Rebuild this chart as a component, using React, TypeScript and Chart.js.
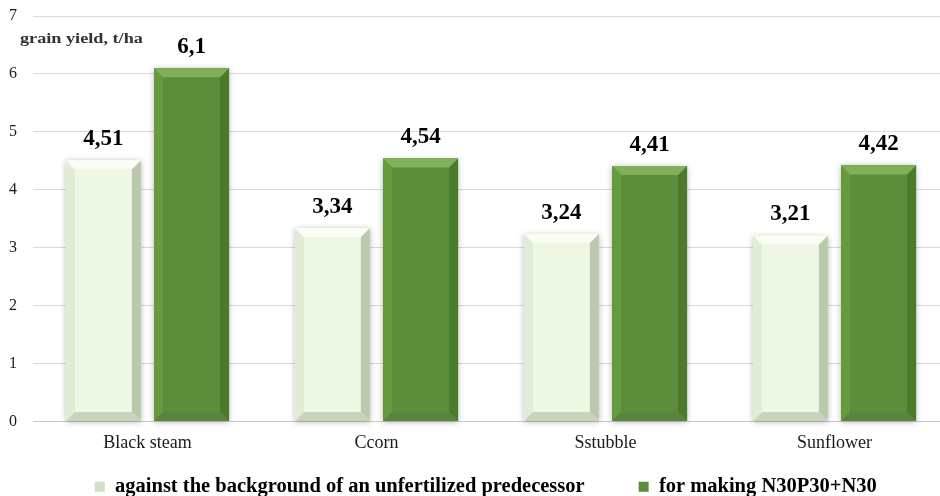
import React, { useEffect, useRef } from "react";
import { Chart, registerables } from "chart.js";

Chart.register(...registerables);

const categories = ["Black steam", "Ccorn", "Sstubble", "Sunflower"];
const seriesNames = [
  "against the background of an unfertilized predecessor",
  "for making N30P30+N30",
];
const unfertilized = [4.51, 3.34, 3.24, 3.21];
const fertilized = [6.1, 4.54, 4.41, 4.42];
const valueLabels = [
  ["4,51", "3,34", "3,24", "3,21"],
  ["6,1", "4,54", "4,41", "4,42"],
];
const yTicks = [0, 1, 2, 3, 4, 5, 6, 7];
const axisTitle = "grain yield, t/ha";

const SERIF = "'Liberation Serif', 'Times New Roman', serif";
const LEGEND_DX = 6.75;

const barStyles = [
  {
    face: "#edf7e3",
    top: "#fafdf5",
    left: "#e1ecd6",
    right: "#bac9ad",
    bottom: "#c8d5bb",
    legend: "#d3dfc9",
  },
  {
    face: "#5c8d3a",
    top: "#80b05a",
    left: "#67993f",
    right: "#4a7a2b",
    bottom: "#5b8442",
    legend: "#5c8d3a",
  },
];

const decorPlugin = {
  id: "decor",
  afterLayout(chart: any) {
    const lg = chart.legend;
    if (!lg) return;
    const dy = chart.chartArea.bottom + 1 - lg.top;
    lg.top += dy;
    lg.bottom += dy;
    lg.left += LEGEND_DX;
    lg.right += LEGEND_DX;
  },
  beforeDatasetsDraw(chart: any) {
    const ctx = chart.ctx;
    chart.data.datasets.forEach((_ds: any, di: number) => {
      const meta = chart.getDatasetMeta(di);
      meta.data.forEach((bar: any) => {
        const { x, y, base, width } = bar.getProps(["x", "y", "base", "width"], true);
        ctx.save();
        ctx.shadowColor = "rgba(0,0,0,0.28)";
        ctx.shadowBlur = 6;
        ctx.shadowOffsetX = 0;
        ctx.shadowOffsetY = 1;
        ctx.fillStyle = barStyles[di].face;
        ctx.fillRect(x - width / 2, y, width, base - y);
        ctx.restore();
      });
    });
  },
  afterDatasetsDraw(chart: any) {
    const ctx = chart.ctx;
    const b = 9;
    chart.data.datasets.forEach((_ds: any, di: number) => {
      const meta = chart.getDatasetMeta(di);
      const st = barStyles[di];
      meta.data.forEach((bar: any, i: number) => {
        const { x, y, base, width } = bar.getProps(["x", "y", "base", "width"], true);
        const l = x - width / 2;
        const r = x + width / 2;
        const t = y;
        const bt = base;
        const poly = (pts: number[][], color: string) => {
          ctx.beginPath();
          ctx.moveTo(pts[0][0], pts[0][1]);
          for (let k = 1; k < pts.length; k++) ctx.lineTo(pts[k][0], pts[k][1]);
          ctx.closePath();
          ctx.fillStyle = color;
          ctx.fill();
        };
        ctx.save();
        poly([[l, t], [l + b, t + b], [l + b, bt - b], [l, bt]], st.left);
        poly([[r, t], [r - b, t + b], [r - b, bt - b], [r, bt]], st.right);
        poly([[l, bt], [r, bt], [r - b, bt - b], [l + b, bt - b]], st.bottom);
        poly([[l, t], [r, t], [r - b, t + b], [l + b, t + b]], st.top);
        ctx.restore();

        ctx.save();
        ctx.font = `bold 23px ${SERIF}`;
        ctx.fillStyle = "#000";
        ctx.textAlign = "center";
        ctx.textBaseline = "middle";
        ctx.fillText(valueLabels[di][i], x, y - 21);
        ctx.restore();
      });
    });
  },
  afterDraw(chart: any) {
    const ctx = chart.ctx;
    const yScale = chart.scales.y;
    ctx.save();
    ctx.font = `bold 14px ${SERIF}`;
    ctx.fillStyle = "#333";
    ctx.textAlign = "left";
    ctx.textBaseline = "middle";
    ctx.translate(chart.chartArea.left - 13, yScale.getPixelForValue(6.6));
    ctx.scale(1.3, 1);
    ctx.fillText(axisTitle, 0, 0);
    ctx.restore();
  },
};

export default function App() {
  const ref = useRef<HTMLCanvasElement | null>(null);

  useEffect(() => {
    if (!ref.current) return;
    const chart = new Chart(ref.current, {
      type: "bar",
      data: {
        labels: categories,
        datasets: [
          {
            label: seriesNames[0],
            data: unfertilized,
            backgroundColor: barStyles[0].face,
            borderWidth: 0,
          },
          {
            label: seriesNames[1],
            data: fertilized,
            backgroundColor: barStyles[1].face,
            borderWidth: 0,
          },
        ],
      },
      options: {
        animation: false,
        responsive: false,
        devicePixelRatio: 1,
        layout: { padding: { top: 16, left: 9, right: 4, bottom: 0 } },
        datasets: {
          bar: { barPercentage: 0.85, categoryPercentage: 0.77 },
        },
        scales: {
          x: {
            grid: { display: false, drawTicks: false },
            border: { display: false },
            ticks: {
              color: "#1a1a1a",
              font: { family: SERIF, size: 18 },
              padding: 11,
              maxRotation: 0,
              autoSkip: false,
            },
            afterFit: (s: any) => {
              s.height = 33;
            },
          },
          y: {
            min: 0,
            max: 7,
            afterBuildTicks: (s: any) => {
              s.ticks = yTicks.map((v) => ({ value: v }));
            },
            grid: {
              color: (c: any) => (c.tick && c.tick.value === 0 ? "#c9c9c9" : "#dadada"),
              lineWidth: 1,
              drawTicks: false,
            },
            border: { display: false },
            ticks: {
              color: "#1a1a1a",
              font: { family: SERIF, size: 16 },
              padding: 0,
              crossAlign: "far",
            },
            afterFit: (s: any) => {
              s.width = 24;
            },
          },
        },
        plugins: {
          legend: {
            position: "bottom",
            labels: {
              boxWidth: 10,
              boxHeight: 10,
              padding: 54,
              color: "#000",
              font: { family: SERIF, size: 20.5, weight: "bold" },
              generateLabels: (c: any) => {
                const items = Chart.defaults.plugins.legend.labels.generateLabels(c);
                return items.map((it: any, i: number) => ({
                  ...it,
                  fillStyle: barStyles[i].legend,
                  lineWidth: 0,
                }));
              },
            },
          },
          tooltip: { enabled: false },
        },
      },
      plugins: [decorPlugin],
    } as any);
    return () => chart.destroy();
  }, []);

  return (
    <div
      style={{
        position: "fixed",
        left: 0,
        top: 0,
        width: 940,
        height: 496,
        overflow: "hidden",
        background: "#fff",
      }}
    >
      <canvas ref={ref} width={953} height={539} style={{ display: "block" }} />
    </div>
  );
}
